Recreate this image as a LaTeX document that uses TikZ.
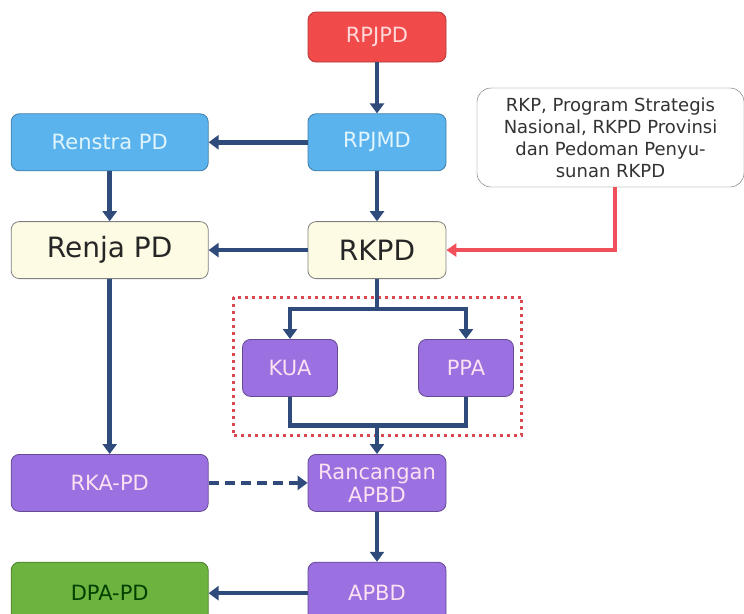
\documentclass[tikz,border=0pt]{standalone}
\usepackage{fontspec}
\setmainfont{DejaVu Sans}
\usepackage{xcolor}
\usetikzlibrary{arrows.meta,positioning,calc}

\definecolor{flowblue}{HTML}{2F4B7C}
\definecolor{linkred}{HTML}{F0505A}
\definecolor{redfill}{HTML}{F04A4A}
\definecolor{bluefill}{HTML}{5BB3EE}
\definecolor{creamfill}{HTML}{FDFBE3}
\definecolor{purplefill}{HTML}{9B70E0}
\definecolor{greenfill}{HTML}{6DB33F}

\begin{document}
\begin{tikzpicture}[x=1pt,y=1pt,
  box/.style={draw,rounded corners=8pt,align=center,minimum height=57pt,
    inner sep=2pt,font=\fontsize{21}{23}\selectfont,line width=0.8pt},
  narrow/.style={minimum width=138pt}, wide/.style={minimum width=197pt},
  redbox/.style={box,narrow,fill=redfill,draw=redfill!75!black,text=red!15,minimum height=50pt},
  bluebox/.style={box,fill=bluefill,draw=bluefill!70!black,text=cyan!12},
  creambox/.style={box,fill=creamfill,draw=black!50,text=black!85,font=\fontsize{28}{30}\selectfont},
  purplebox/.style={box,fill=purplefill,draw=purplefill!65!black,text=magenta!12},
  greenbox/.style={box,fill=greenfill,draw=greenfill!70!black,text=green!25!black},
  infobox/.style={draw=black!60,rounded corners=14pt,align=center,fill=white,text=black!80,
    minimum width=267pt,minimum height=99pt,inner sep=2pt,font=\fontsize{18}{22}\selectfont},
  dotbox/.style={draw=linkred!90!black,line width=3pt,dash pattern=on 3pt off 4pt},
  flow/.style={draw=flowblue,line width=4.5pt},
  >={Triangle[width=14pt,length=10pt]},
  every edge/.style={flow,->}]
  \useasboundingbox (0,0) rectangle (744,-613);
  \node[redbox] (rpjpd) at (377,-37) {RPJPD};
  \node[bluebox,narrow,below=51pt of rpjpd] (rpjmd) {RPJMD};
  \node[bluebox,wide,left=99pt of rpjmd] (renstra) {Renstra PD};
  \node[creambox,narrow,below=50pt of rpjmd] (rkpd) {RKPD};
  \node[creambox,wide,left=99pt of rkpd] (renja) {Renja PD};
  \node[infobox] (info) at (610.5,-137.5) {RKP, Program Strategis\\Nasional, RKPD Provinsi\\dan Pedoman Penyu-\\sunan RKPD};
  \node[purplebox,minimum width=95pt,below=60pt of rkpd,xshift=-87pt] (kua) {KUA};
  \node[purplebox,minimum width=95pt,below=60pt of rkpd,xshift=89pt] (ppa) {PPA};
  \node[purplebox,narrow,below=175pt of rkpd] (ranc) {Rancangan\\APBD};
  \node[purplebox,wide,left=99pt of ranc] (rka) {RKA-PD};
  \node[purplebox,narrow,minimum height=62pt,below=50pt of ranc] (apbd) {APBD};
  \node[greenbox,wide,minimum height=62pt,left=99pt of apbd] (dpa) {DPA-PD};
  % KUA / PPA group
  \draw[dotbox] ($(kua.north west)+(-9pt,42pt)$) rectangle ($(ppa.south east)+(8pt,-39pt)$);
  \coordinate (split) at ($(rkpd.south)!.5!(rkpd.south |- kua.north)$);
  \coordinate (join) at ($(ranc.north)!.5!(ranc.north |- kua.south)$);
  \draw(rpjpd)edge(rpjmd); \draw(rpjmd)edge(renstra); \draw(renstra)edge(renja);
  \draw(rpjmd)edge(rkpd); \draw(rkpd)edge(renja); \draw(renja)edge(rka);
  \draw[flow] (rkpd) -- (split);
  \draw[flow,->] (split) -| (kua); \draw[flow,->] (split) -| (ppa);
  \draw[flow] (kua) |- (join) -| (ppa);
  \draw(join)edge(ranc);
  \draw(rka)edge[dash pattern=on 10pt off 6pt](ranc);
  \draw(ranc)edge(apbd); \draw(apbd)edge(dpa);
  \draw[draw=linkred,line width=4pt,->,>={Triangle[width=13pt,length=10pt]}]
    ([xshift=4pt]info.south) |- (rkpd);
\end{tikzpicture}
\end{document}
